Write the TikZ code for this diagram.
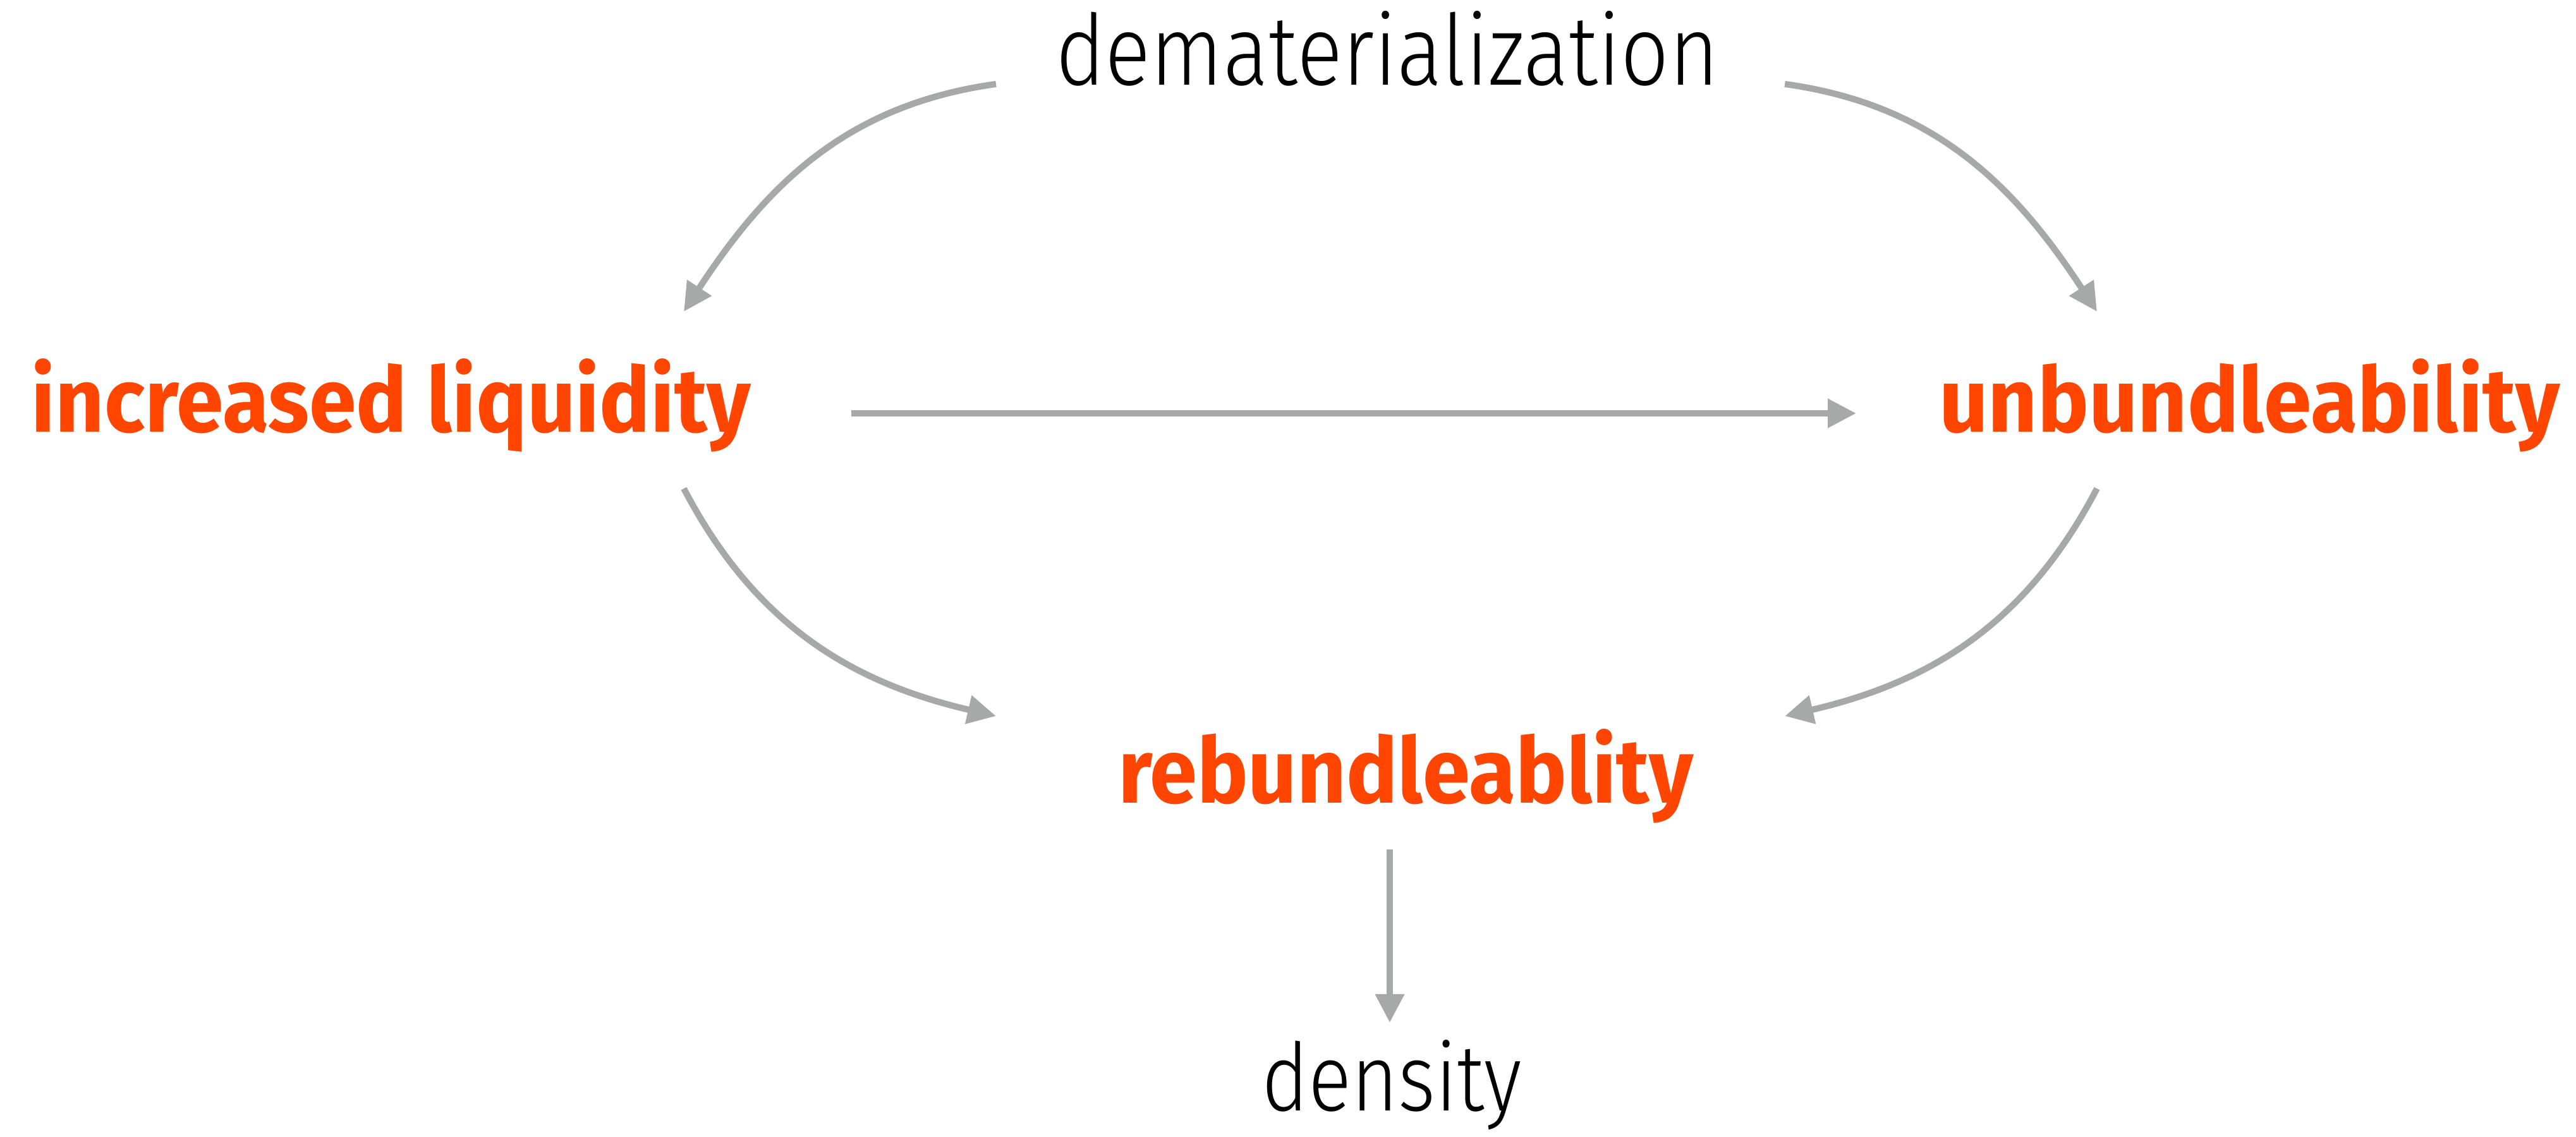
\documentclass[tikz,border=0pt]{standalone}
\usepackage{fontspec}
\usetikzlibrary{arrows.meta}
\newfontfamily\lightfont{Fira Sans Light}
\newfontfamily\boldfont{Fira Sans}
\definecolor{hot}{RGB}{255,69,0}
\definecolor{conn}{RGB}{166,169,168}
\tikzset{
  lbl/.style={inner sep=0pt, outer sep=0pt, anchor=base west},
  plain/.style={lbl, text=black},
  hotlbl/.style={lbl, text=hot},
  link/.style={draw=conn, line width=0.1cm, -{Triangle[length=0.45cm,width=0.44cm]}}
}
\begin{document}
\begin{tikzpicture}
\useasboundingbox (0,0) rectangle (40.76,17.99);
\node[plain]  (dem) at (16.70,16.64) {\resizebox{10.50cm}{1.17cm}{\lightfont dematerialization}};
\node[hotlbl] (inc) at (0.50,11.15)  {\resizebox{11.38cm}{1.16cm}{\boldfont\bfseries increased liquidity}};
\node[hotlbl] (unb) at (30.68,11.15) {\resizebox{9.82cm}{1.16cm}{\boldfont\bfseries unbundleability}};
\node[hotlbl] (reb) at (17.69,5.28)  {\resizebox{9.10cm}{1.17cm}{\boldfont\bfseries rebundleablity}};
\node[plain]  (den) at (19.96,0.41)  {\resizebox{4.12cm}{1.12cm}{\lightfont density}};

\draw[link] ([shift={(-0.94,0.02)}]dem.base west) .. controls +(-2.37,-0.33) and +(1.31,2.00) .. ([shift={(-1.06,1.91)}]inc.base east);
\draw[link] ([shift={(1.04,0.02)}]dem.base east) .. controls +(2.37,-0.33) and +(-1.31,2.00) .. ([shift={(2.50,1.91)}]unb.base west);
\draw[link] ([shift={(1.59,0.30)}]inc.base east) -- ([shift={(-1.31,0.30)}]unb.base west);
\draw[link] ([shift={(-1.06,-0.89)}]inc.base east) .. controls +(1.11,-2.12) and +(-2.33,0.54) .. ([shift={(-1.93,1.38)}]reb.base west);
\draw[link] ([shift={(2.50,-0.89)}]unb.base west) .. controls +(-1.11,-2.12) and +(2.33,0.54) .. ([shift={(1.45,1.38)}]reb.base east);
\draw[link] ([shift={(4.30,-0.73)}]reb.base west) -- ([shift={(2.03,1.40)}]den.base west);
\end{tikzpicture}
\end{document}
